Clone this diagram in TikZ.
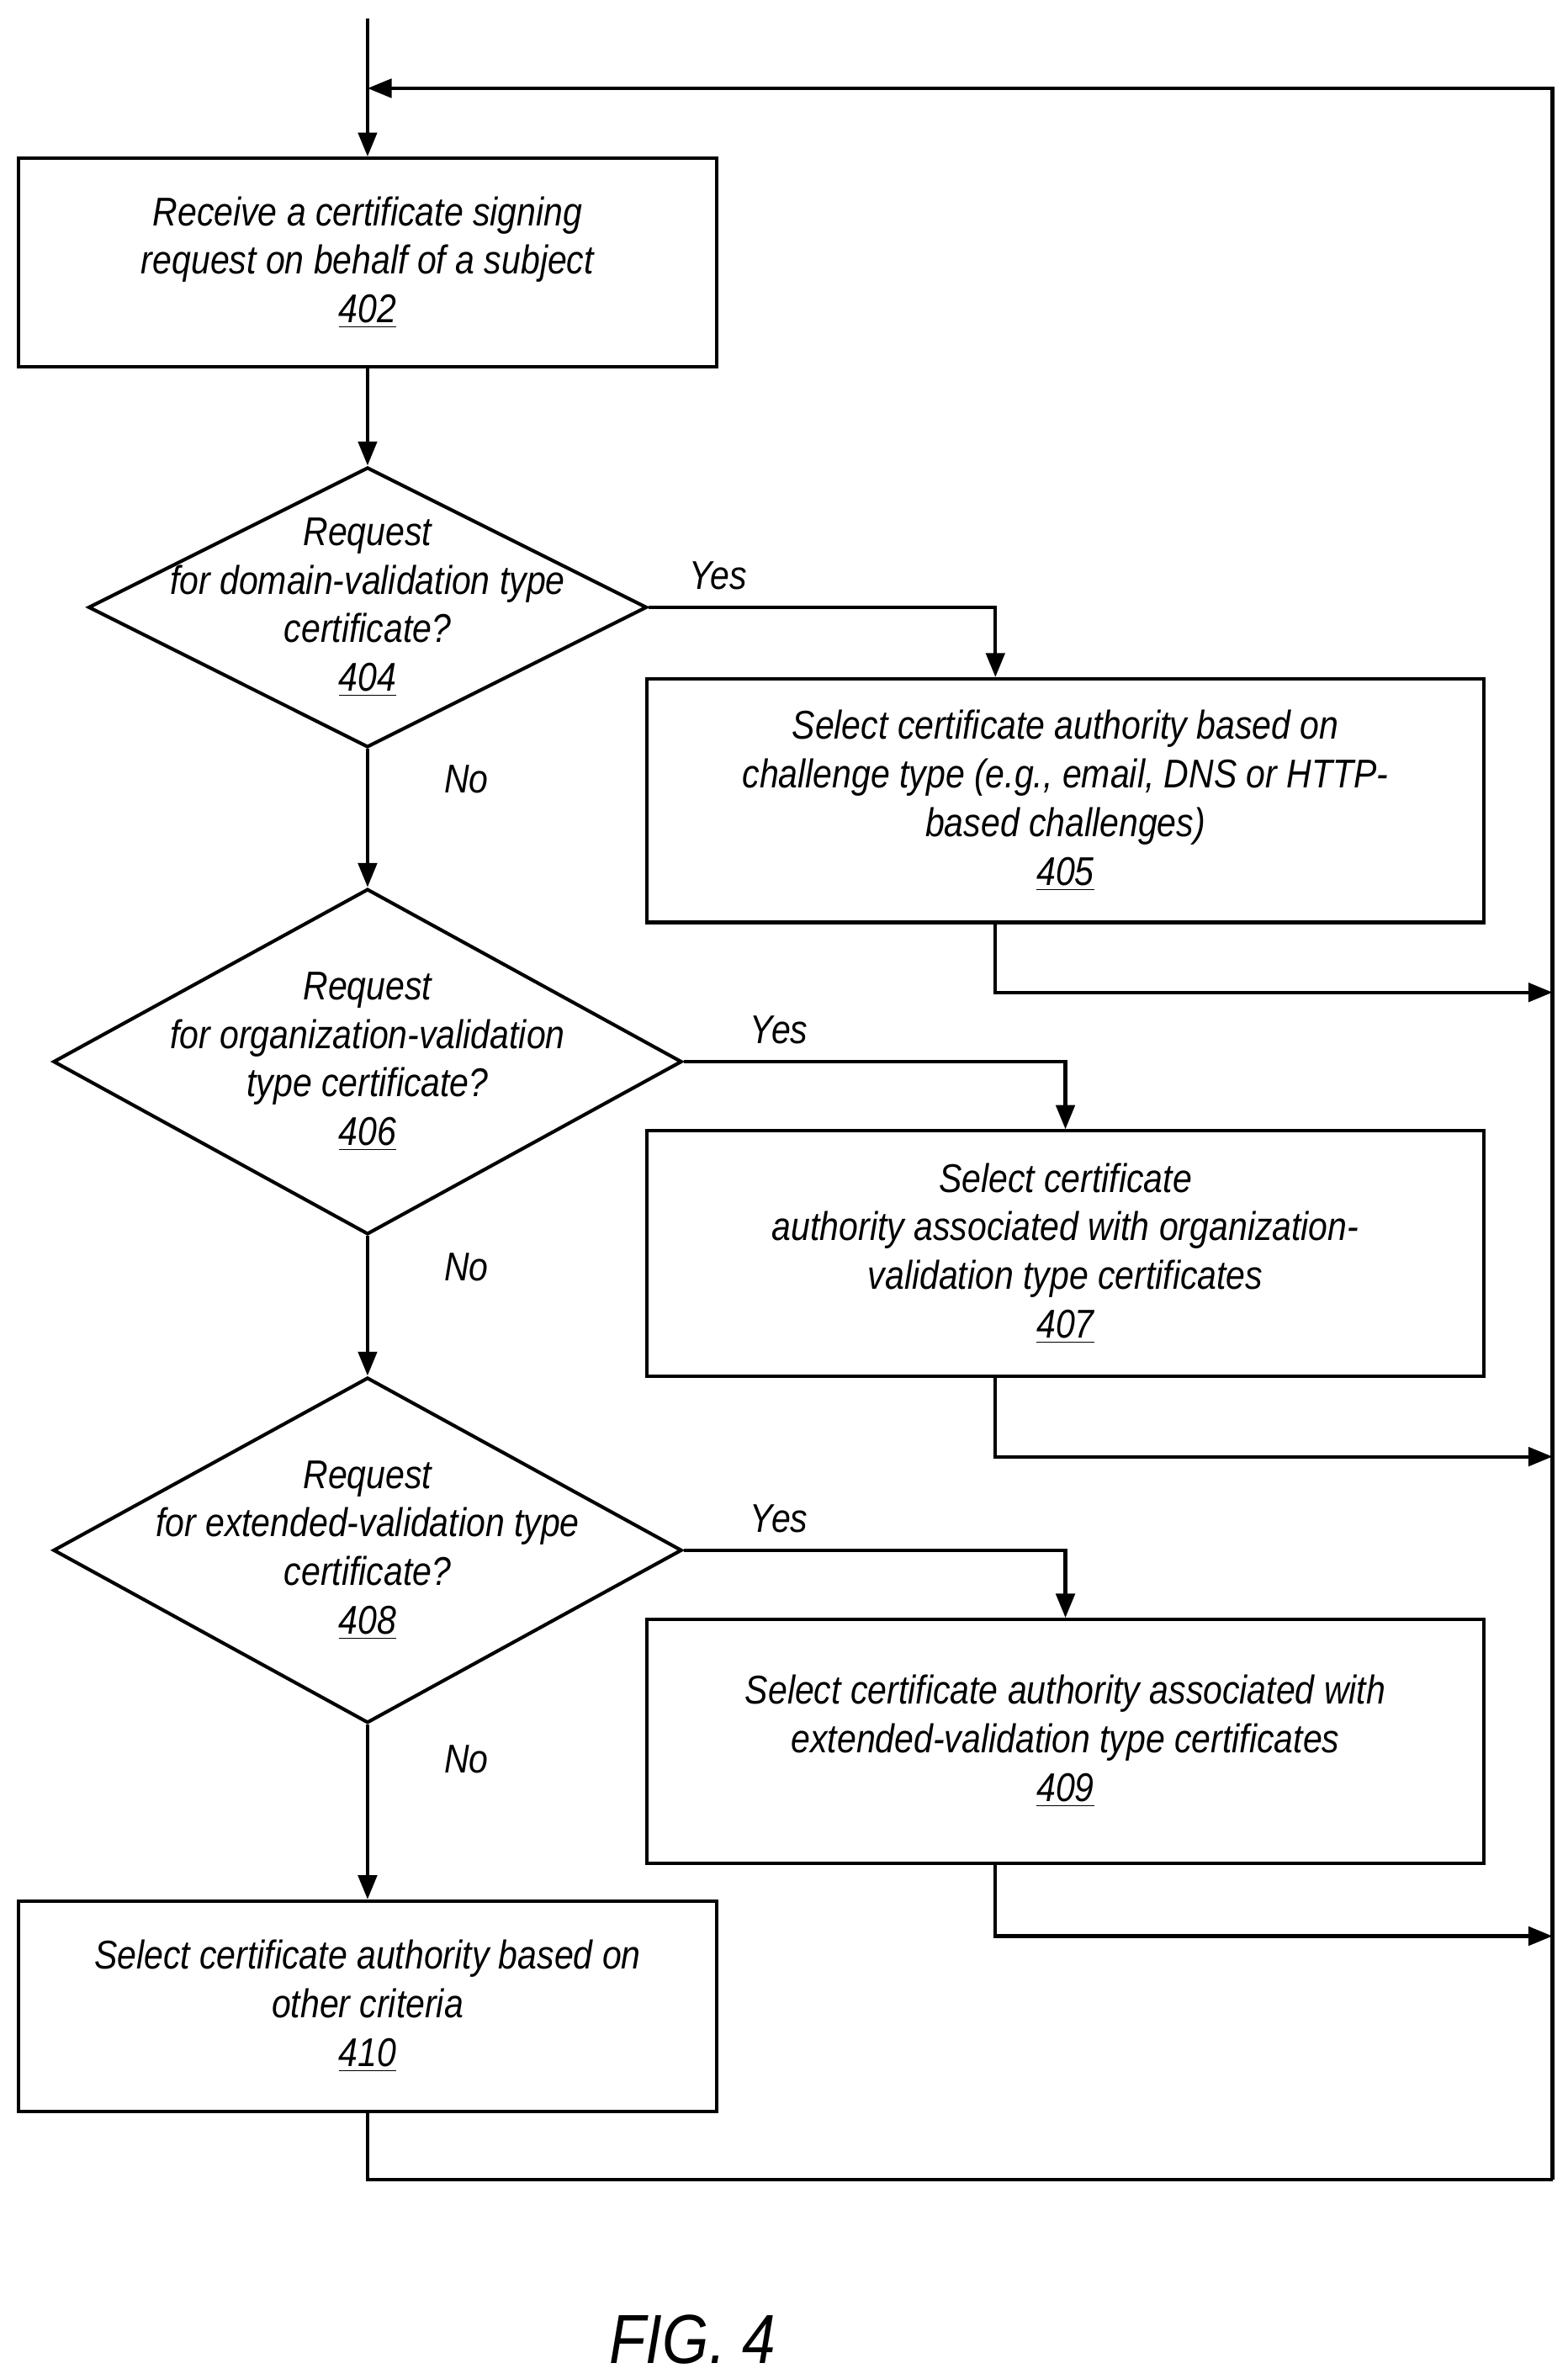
\documentclass[tikz,border=0pt]{standalone}
\usepackage{fontspec}
\setmainfont{Liberation Sans}[ItalicFeatures={FakeStretch=0.86}]
\usetikzlibrary{shapes.geometric,arrows.meta,positioning}
\begin{document}
\begin{tikzpicture}[x=0.02cm,y=-0.02cm,line width=1.3pt,
  >={Triangle[length=9pt,width=7pt]},
  every node/.style={font=\fontsize{15}{18.2}\selectfont\itshape,align=center,inner sep=0pt},
  box/.style={draw,rectangle},
  dia/.style={draw,diamond,minimum width=#1}]
\useasboundingbox (0,0) rectangle (1030,1563);
% process boxes
\node[box,minimum width=459*0.02cm,minimum height=137*0.02cm] (recv) at (241.5,172.5)
  {Receive a certificate signing\\request on behalf of a subject\\\underline{402}};
\node[box,minimum width=550*0.02cm,minimum height=160*0.02cm] (chal) at (700,526)
  {Select certificate authority based on\\challenge type (e.g., email, DNS or HTTP-\\based challenges)\\\underline{405}};
\node[box,minimum width=550*0.02cm,minimum height=161*0.02cm] (ovca) at (700,823.5)
  {Select certificate\\authority associated with organization-\\validation type certificates\\\underline{407}};
\node[box,minimum width=550*0.02cm,minimum height=160*0.02cm] (evca) at (700,1144)
  {Select certificate authority associated with\\extended-validation type certificates\\\underline{409}};
\node[box,minimum width=459*0.02cm,minimum height=138*0.02cm] (other) at (241.5,1318)
  {Select certificate authority based on\\other criteria\\\underline{410}};
% decisions
\node[draw,diamond,minimum width=367*0.02cm,minimum height=184*0.02cm,xscale=1,shape aspect=2] (dv) at (241.5,399) {};
\node at (dv) {Request\\for domain-validation type\\certificate?\\\underline{404}};
\node[draw,diamond,minimum width=413*0.02cm,minimum height=227*0.02cm] (ov) at (241.5,697.5) {};
\node at (ov) {Request\\for organization-validation\\type certificate?\\\underline{406}};
\node[draw,diamond,minimum width=413*0.02cm,minimum height=227*0.02cm] (ev) at (241.5,1018.5) {};
\node at (ev) {Request\\for extended-validation type\\certificate?\\\underline{408}};
% loop coordinates
\coordinate (start) at (241.5,12);
\coordinate (rtop) at (1020,58);
\coordinate (rbot) at (1020,1432);
\coordinate (lbot) at (241.5,1432);
% connectors
\draw[->] (start) -- (recv);
\draw[->] (rbot) -- (rtop) -- (241.5,58);
\draw[->] (recv) -- (dv);
\draw[->] (dv) -- node[pos=0.22,right=28pt] {No} (ov);
\draw[->] (ov) -- node[pos=0.22,right=28pt] {No} (ev);
\draw[->] (ev) -- node[pos=0.2,right=28pt] {No} (other);
\draw[->] (dv.east) -- node[above=6pt,pos=0.2] {Yes} (654,399) -- (chal.north -| 654,0);
\draw[->] (ov.east) -- node[above=6pt,pos=0.25] {Yes} (700,697.5) -- (ovca);
\draw[->] (ev.east) -- node[above=6pt,pos=0.25] {Yes} (700,1018.5) -- (evca);
\draw[->] (chal.south -| 654,0) -- (654,652) -- (1020,652);
\draw[->] (ovca.south -| 654,0) -- (654,957) -- (1020,957);
\draw[->] (evca.south -| 654,0) -- (654,1272) -- (1020,1272);
\draw (other) -- (lbot) -- (rbot);
\node[font=\fontsize{26}{30}\selectfont\itshape] (fig) at (455,1537) {FIG. 4};
\end{tikzpicture}
\end{document}
